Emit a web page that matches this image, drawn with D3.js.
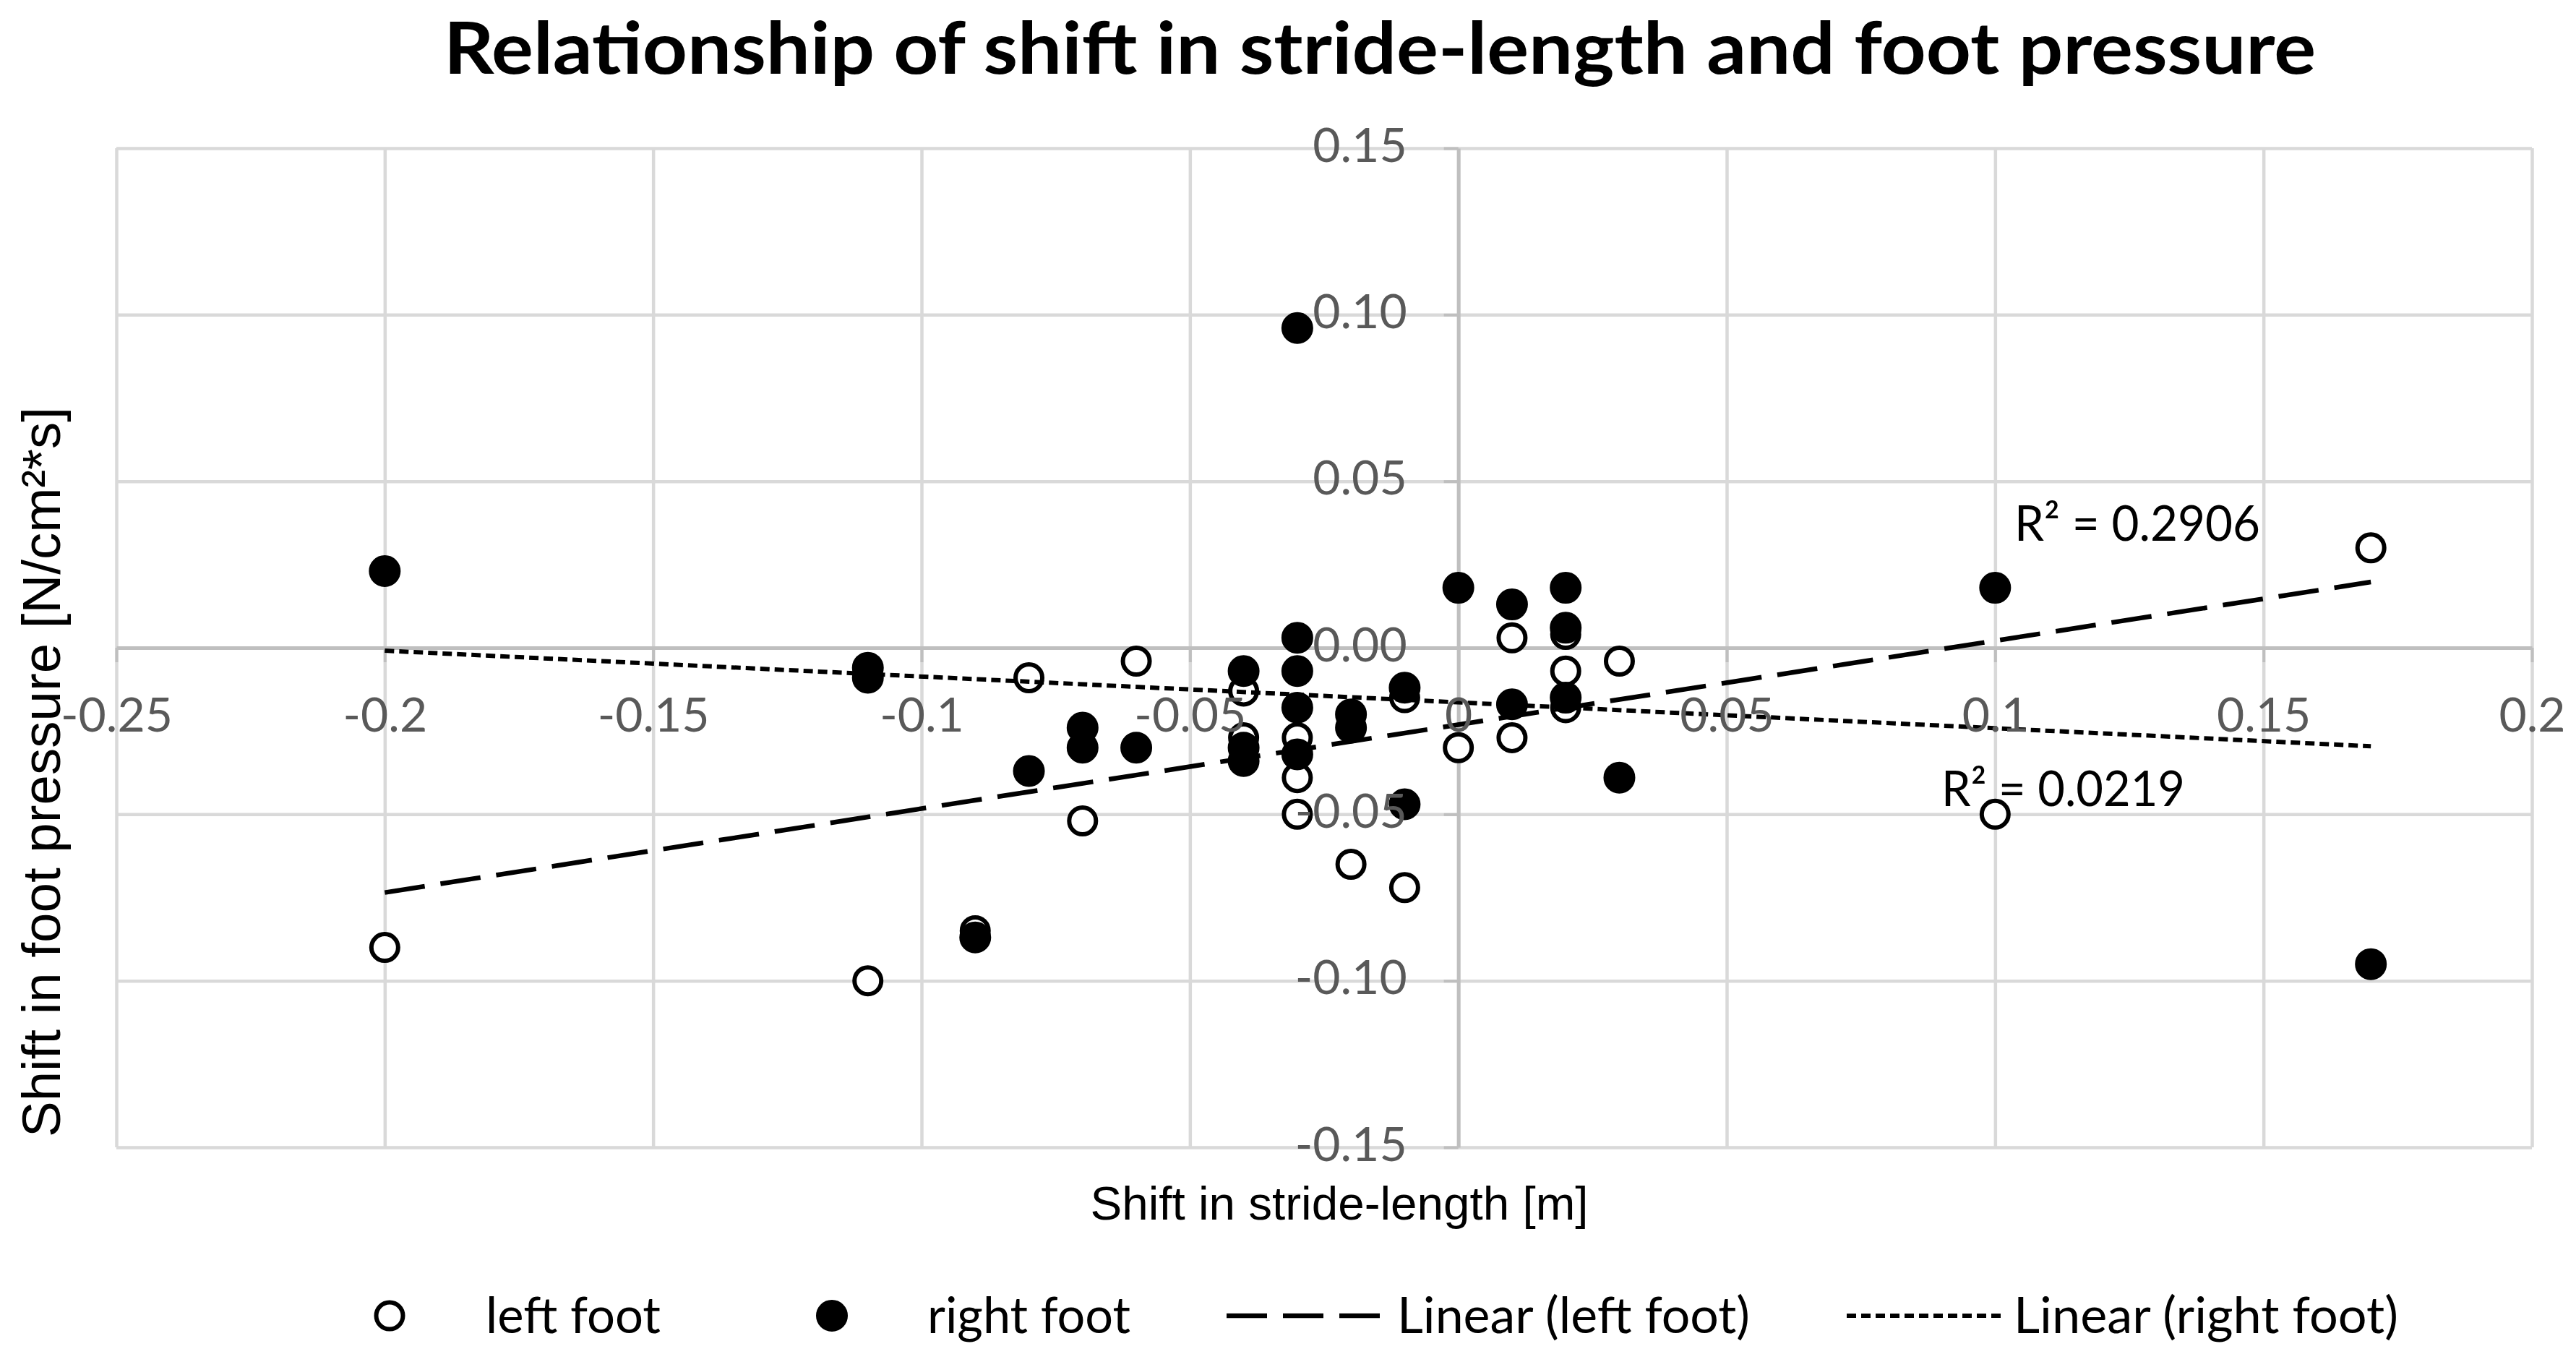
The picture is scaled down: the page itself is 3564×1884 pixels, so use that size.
<!DOCTYPE html>
<html>
<head>
<meta charset="utf-8">
<script src="https://cdn.jsdelivr.net/npm/d3@7"></script>
<style>
  html, body { margin: 0; padding: 0; background: #fff; }
  svg { display: block; }
</style>
</head>
<body>
<svg id="chart"></svg>
<script>
// values: [stride shift, pressure shift]
const leftFoot = [
  [-0.2, -0.090], [-0.11, -0.100], [-0.09, -0.085], [-0.08, -0.009],
  [-0.07, -0.052], [-0.06, -0.004], [-0.04, -0.013], [-0.04, -0.027],
  [-0.03, -0.027], [-0.03, -0.039], [-0.03, -0.050], [-0.02, -0.065],
  [-0.01, -0.015], [-0.01, -0.072], [0, -0.030], [0.01, 0.003],
  [0.01, -0.027], [0.02, 0.004], [0.02, -0.007], [0.02, -0.018],
  [0.03, -0.004], [0.1, -0.050], [0.17, 0.030]
];
const rightFoot = [
  [-0.2, 0.023], [-0.11, -0.006], [-0.11, -0.009], [-0.09, -0.087],
  [-0.08, -0.037], [-0.07, -0.024], [-0.07, -0.030], [-0.06, -0.030],
  [-0.04, -0.007], [-0.04, -0.030], [-0.04, -0.034], [-0.03, 0.096],
  [-0.03, 0.003], [-0.03, -0.007], [-0.03, -0.018], [-0.03, -0.032],
  [-0.02, -0.020], [-0.02, -0.024], [-0.01, -0.012], [-0.01, -0.047],
  [0, 0.018], [0.01, 0.013], [0.01, -0.017], [0.02, 0.018],
  [0.02, 0.006], [0.02, -0.015], [0.03, -0.039], [0.1, 0.018],
  [0.17, -0.095]
];

// linear trend lines: [slope, intercept]
const leftTrend = [0.252, -0.0231];
const rightTrend = [-0.0776, -0.0164];
const rSquared = ["R\u00b2 = 0.2906", "R\u00b2 = 0.0219"];

const xTicks = [-0.25, -0.2, -0.15, -0.1, -0.05, 0, 0.05, 0.1, 0.15, 0.2];
const xTickLabels = ["-0.25", "-0.2", "-0.15", "-0.1", "-0.05", "0", "0.05", "0.1", "0.15", "0.2"];
const yTicks = [0.15, 0.1, 0.05, 0, -0.05, -0.1, -0.15];
const yTickLabels = ["0.15", "0.10", "0.05", "0.00", "-0.05", "-0.10", "-0.15"];
const legendLabels = ["left foot", "right foot", "Linear (left foot)", "Linear (right foot)"];

// chart size and plot area
const svgWidth = 3564;
const svgHeight = 1884;
const plotLeft = 161, plotRight = 3503, plotTop = 205, plotBottom = 1587;

const labelFont = "Lato, 'Open Sans', sans-serif";
const axisFont = "'Liberation Sans', Arial, sans-serif";

const svg = d3.select("#chart")
  .attr("width", svgWidth)
  .attr("height", svgHeight);

svg.append("rect")
  .attr("width", "100%")
  .attr("height", "100%")
  .attr("fill", "white");

const x = d3.scaleLinear().domain([-0.25, 0.2]).range([plotLeft, plotRight]);
const y = d3.scaleLinear().domain([-0.15, 0.15]).range([plotBottom, plotTop]);

// vertical grid lines
svg.append("g")
  .attr("transform", `translate(0,${plotBottom})`)
  .call(d3.axisBottom(x).tickValues(xTicks).tickSize(-(plotBottom - plotTop)).tickFormat(""))
  .call(g => g.select(".domain").remove())
  .call(g => g.selectAll(".tick line").attr("stroke", "#d9d9d9").attr("stroke-width", 4.5));

// horizontal grid lines
svg.append("g")
  .attr("transform", `translate(${plotLeft},0)`)
  .call(d3.axisLeft(y).tickValues(yTicks).tickSize(-(plotRight - plotLeft)).tickFormat(""))
  .call(g => g.select(".domain").remove())
  .call(g => g.selectAll(".tick line").attr("stroke", "#d9d9d9").attr("stroke-width", 4.5));

// axis lines crossing at zero
svg.append("g")
  .attr("transform", `translate(0,${y(0)})`)
  .call(d3.axisBottom(x).tickValues(xTicks).tickSize(20).tickSizeOuter(0).tickFormat(""))
  .call(g => g.select(".domain").attr("stroke", "#bfbfbf").attr("stroke-width", 5))
  .call(g => g.selectAll(".tick line").attr("stroke", "#bfbfbf").attr("stroke-width", 4));

svg.append("g")
  .attr("transform", `translate(${x(0)},0)`)
  .call(d3.axisLeft(y).tickValues(yTicks).tickSize(20).tickSizeOuter(0).tickFormat(""))
  .call(g => g.select(".domain").attr("stroke", "#bfbfbf").attr("stroke-width", 5))
  .call(g => g.selectAll(".tick line").attr("stroke", "#bfbfbf").attr("stroke-width", 4));

// markers
svg.append("g")
  .selectAll("circle")
  .data(leftFoot)
  .join("circle")
  .attr("cx", d => x(d[0]))
  .attr("cy", d => y(d[1]))
  .attr("r", 18.5)
  .attr("fill", "#fff")
  .attr("stroke", "#000")
  .attr("stroke-width", 6);

svg.append("g")
  .selectAll("circle")
  .data(rightFoot)
  .join("circle")
  .attr("cx", d => x(d[0]))
  .attr("cy", d => y(d[1]))
  .attr("r", 19.5)
  .attr("fill", "#000")
  .attr("stroke", "#000")
  .attr("stroke-width", 5);

// trend lines over the x extent of each series
const trendLine = coef => d3.line()
  .x(d => x(d))
  .y(d => y(coef[0] * d + coef[1]));

svg.append("path")
  .datum(d3.extent(leftFoot, d => d[0]))
  .attr("fill", "none")
  .attr("stroke", "#000")
  .attr("stroke-width", 6.5)
  .attr("stroke-dasharray", "56,22")
  .attr("d", trendLine(leftTrend));

svg.append("path")
  .datum(d3.extent(rightFoot, d => d[0]))
  .attr("fill", "none")
  .attr("stroke", "#000")
  .attr("stroke-width", 6)
  .attr("stroke-dasharray", "13,7")
  .attr("d", trendLine(rightTrend));

// tick labels on top of the data
svg.append("g")
  .attr("transform", `translate(0,${y(0)})`)
  .call(d3.axisBottom(x).tickValues(xTicks).tickSize(0).tickFormat((d, i) => xTickLabels[i]))
  .call(g => g.select(".domain").remove())
  .call(g => g.selectAll(".tick line").remove())
  .call(g => g.selectAll(".tick text")
    .attr("y", 116)
    .attr("dy", null)
    .attr("fill", "#595959")
    .style("font-family", labelFont)
    .style("font-size", "66px"));

svg.append("g")
  .attr("transform", `translate(${x(0)},0)`)
  .call(d3.axisLeft(y).tickValues(yTicks).tickSize(0).tickFormat((d, i) => yTickLabels[i]))
  .call(g => g.select(".domain").remove())
  .call(g => g.selectAll(".tick line").remove())
  .call(g => g.selectAll(".tick text")
    .attr("x", -71)
    .attr("y", 18)
    .attr("dy", null)
    .attr("fill", "#595959")
    .style("font-family", labelFont)
    .style("font-size", "66px"));

// R squared labels
svg.append("text")
  .attr("x", 2787).attr("y", 748)
  .attr("textLength", 340).attr("lengthAdjust", "spacingAndGlyphs")
  .style("font-family", labelFont).style("font-size", "68px")
  .attr("fill", "#000")
  .text(rSquared[0]);

svg.append("text")
  .attr("x", 2686).attr("y", 1115)
  .attr("textLength", 337).attr("lengthAdjust", "spacingAndGlyphs")
  .style("font-family", labelFont).style("font-size", "68px")
  .attr("fill", "#000")
  .text(rSquared[1]);

// title
svg.append("text")
  .attr("x", 1909).attr("y", 102)
  .attr("text-anchor", "middle")
  .attr("textLength", 2590).attr("lengthAdjust", "spacingAndGlyphs")
  .style("font-family", labelFont).style("font-size", "100px").style("font-weight", "bold")
  .attr("fill", "#000")
  .text("Relationship of shift in stride-length and foot pressure");

// axis titles
svg.append("text")
  .attr("x", 1853).attr("y", 1687)
  .attr("text-anchor", "middle")
  .attr("textLength", 689).attr("lengthAdjust", "spacingAndGlyphs")
  .style("font-family", axisFont).style("font-size", "65px")
  .attr("fill", "#000")
  .text("Shift in stride-length [m]");

svg.append("text")
  .attr("transform", "translate(83,1068) rotate(-90)")
  .attr("text-anchor", "middle")
  .attr("textLength", 1010).attr("lengthAdjust", "spacingAndGlyphs")
  .style("font-family", axisFont).style("font-size", "75px")
  .attr("fill", "#000")
  .text("Shift in foot pressure [N/cm\u00b2*s]");

// legend
const legendY = 1820;
const legend = svg.append("g").style("font-family", labelFont).style("font-size", "70px");

legend.append("circle")
  .attr("cx", 539).attr("cy", legendY).attr("r", 18.5)
  .attr("fill", "#fff").attr("stroke", "#000").attr("stroke-width", 6);
legend.append("text").attr("x", 672).attr("y", legendY + 24)
  .attr("textLength", 242).attr("lengthAdjust", "spacingAndGlyphs")
  .text(legendLabels[0]);

legend.append("circle")
  .attr("cx", 1151).attr("cy", legendY).attr("r", 19.5)
  .attr("fill", "#000").attr("stroke", "#000").attr("stroke-width", 5);
legend.append("text").attr("x", 1283).attr("y", legendY + 24)
  .attr("textLength", 281).attr("lengthAdjust", "spacingAndGlyphs")
  .text(legendLabels[1]);

legend.append("line")
  .attr("x1", 1697).attr("x2", 1915).attr("y1", legendY).attr("y2", legendY)
  .attr("stroke", "#000").attr("stroke-width", 6.5).attr("stroke-dasharray", "56,22");
legend.append("text").attr("x", 1933).attr("y", legendY + 24)
  .attr("textLength", 488).attr("lengthAdjust", "spacingAndGlyphs")
  .text(legendLabels[2]);

legend.append("line")
  .attr("x1", 2555).attr("x2", 2772).attr("y1", legendY).attr("y2", legendY)
  .attr("stroke", "#000").attr("stroke-width", 6).attr("stroke-dasharray", "13,7");
legend.append("text").attr("x", 2786).attr("y", legendY + 24)
  .attr("textLength", 532).attr("lengthAdjust", "spacingAndGlyphs")
  .text(legendLabels[3]);
</script>
</body>
</html>
